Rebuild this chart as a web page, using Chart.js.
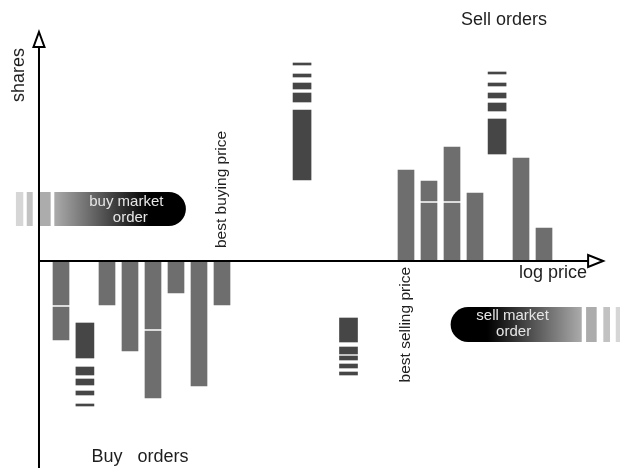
<!DOCTYPE html>
<html>
<head>
<meta charset="utf-8">
<script src="https://cdn.jsdelivr.net/npm/chart.js@4.4.1/dist/chart.umd.min.js"></script>
<style>
  html, body { margin: 0; padding: 0; background: #fff; }
  #wrap { width: 620px; height: 468px; }
</style>
</head>
<body>
<div id="wrap"><canvas id="book" width="620" height="468"></canvas></div>
<script>
// price slots (log price, one slot per tick) and share levels of the limit orders
const buyPrice = [0, 0, 2, 3, 4, 4, 5, 6, 7];
const buyFrom  = [0, -4.5, 0, 0, 0, -6.9, 0, 0, 0];
const buyTo    = [-4.5, -8.0, -4.5, -9.1, -6.9, -13.8, -3.3, -12.6, -4.5];

const sellPrice = [15, 16, 16, 17, 17, 18, 20, 21];
const sellFrom  = [0, 0, 5.9, 0, 5.9, 0, 0, 0];
const sellTo    = [9.2, 5.9, 8.1, 5.9, 11.5, 6.9, 10.4, 3.4];

// newly arriving / cancelled orders (dark blocks) and their trailing dashes
const newPrice = [1.04, 12.5, 10.48, 18.96];
const newFrom  = [-6.2, -5.7, 8.1, 10.7];
const newTo    = [-9.7, -8.1, 15.1, 14.2];

const dashPrice = [1.04, 1.04, 1.04, 1.04, 12.5, 12.5, 12.5, 12.5, 10.48, 10.48, 10.48, 10.48, 18.96, 18.96, 18.96, 18.96];
const dashFrom  = [-10.6, -11.8, -13.0, -14.3, -8.6, -9.5, -10.3, -11.1, 15.9, 17.2, 18.4, 19.6, 15.0, 16.3, 17.5, 18.7];
const dashTo    = [-11.4, -12.4, -13.4, -14.5, -9.3, -9.9, -10.7, -11.4, 16.8, 17.8, 18.7, 19.8, 15.8, 16.8, 17.8, 18.9];

// market orders: price extent and share band
const buyMarketPrice  = [-0.29, 5.43];
const buyMarketShares = [3.5, 6.9];
const buyTrailFrom = [-1.96, -1.49, -0.94];
const buyTrailTo   = [-1.64, -1.23, -0.45];

const sellMarketPrice  = [16.94, 22.64];
const sellMarketShares = [-8.1, -4.6];
const sellTrailFrom = [22.83, 23.58, 24.12];
const sellTrailTo   = [23.29, 23.87, 24.5];

const GRAY = '#6e6e6e';
const DARK = '#464646';
const INK  = '#1e1e1e';
const FONT = '"Liberation Sans", Arial, sans-serif';

function pts(xs, from, to) {
  return xs.map((x, i) => ({ x, y: [from[i], to[i]] }));
}

const decor = {
  id: 'decor',
  beforeDatasetsDraw(chart) {
    const { ctx, scales: { x, y } } = chart;
    // buy market order
    let x0 = x.getPixelForValue(buyMarketPrice[0]), x1 = x.getPixelForValue(buyMarketPrice[1]);
    let yt = y.getPixelForValue(buyMarketShares[1]), yb = y.getPixelForValue(buyMarketShares[0]);
    let r = (yb - yt) / 2;
    const trailBuy = ['#d6d6d6', '#c2c2c2', '#acacac'];
    buyTrailFrom.forEach((v, i) => {
      ctx.fillStyle = trailBuy[i];
      const a = x.getPixelForValue(v), b = x.getPixelForValue(buyTrailTo[i]);
      ctx.fillRect(a, yt, b - a, yb - yt);
    });
    let g = ctx.createLinearGradient(x0, 0, x1, 0);
    g.addColorStop(0, '#ababab');
    g.addColorStop(0.72, '#000');
    g.addColorStop(1, '#000');
    ctx.fillStyle = g;
    ctx.beginPath();
    ctx.moveTo(x0, yt);
    ctx.lineTo(x1 - r, yt);
    ctx.arc(x1 - r, yt + r, r, -Math.PI / 2, Math.PI / 2);
    ctx.lineTo(x0, yb);
    ctx.closePath();
    ctx.fill();
    ctx.fillStyle = '#e6e6e6';
    ctx.font = '15px ' + FONT;
    ctx.textAlign = 'center';
    ctx.textBaseline = 'middle';
    ctx.fillText('buy market', x0 + 72, yt + 10);
    ctx.fillText('order', x0 + 76, yt + 26);

    // sell market order
    x0 = x.getPixelForValue(sellMarketPrice[0]); x1 = x.getPixelForValue(sellMarketPrice[1]);
    yt = y.getPixelForValue(sellMarketShares[1]); yb = y.getPixelForValue(sellMarketShares[0]);
    r = (yb - yt) / 2;
    const trailSell = ['#acacac', '#c2c2c2', '#d6d6d6'];
    sellTrailFrom.forEach((v, i) => {
      ctx.fillStyle = trailSell[i];
      const a = x.getPixelForValue(v), b = x.getPixelForValue(sellTrailTo[i]);
      ctx.fillRect(a, yt, b - a, yb - yt);
    });
    g = ctx.createLinearGradient(x0, 0, x1, 0);
    g.addColorStop(0, '#000');
    g.addColorStop(0.28, '#000');
    g.addColorStop(1, '#ababab');
    ctx.fillStyle = g;
    ctx.beginPath();
    ctx.moveTo(x1, yt);
    ctx.lineTo(x0 + r, yt);
    ctx.arc(x0 + r, yt + r, r, -Math.PI / 2, Math.PI / 2, true);
    ctx.lineTo(x1, yb);
    ctx.closePath();
    ctx.fill();
    ctx.fillStyle = '#e6e6e6';
    ctx.fillText('sell market', x0 + 62, yt + 9);
    ctx.fillText('order', x0 + 63, yt + 25);
  },
  afterDatasetsDraw(chart) {
    const { ctx, chartArea, scales: { x, y } } = chart;
    const ax = x.getPixelForValue(-0.957);
    const ay = y.getPixelForValue(0);
    const yTip = y.getPixelForValue(22.9);
    const xTip = x.getPixelForValue(23.57);
    ctx.save();
    ctx.strokeStyle = '#000';
    ctx.lineWidth = 2;
    ctx.beginPath();
    ctx.moveTo(ax, chartArea.bottom);
    ctx.lineTo(ax, yTip + 15);
    ctx.moveTo(ax, ay);
    ctx.lineTo(xTip - 15, ay);
    ctx.stroke();
    ctx.fillStyle = '#fff';
    ctx.beginPath();
    ctx.moveTo(ax, yTip);
    ctx.lineTo(ax + 5.5, yTip + 15);
    ctx.lineTo(ax - 5.5, yTip + 15);
    ctx.closePath();
    ctx.fill(); ctx.stroke();
    ctx.beginPath();
    ctx.moveTo(xTip, ay);
    ctx.lineTo(xTip - 15, ay - 6);
    ctx.lineTo(xTip - 15, ay + 6);
    ctx.closePath();
    ctx.fill(); ctx.stroke();

    ctx.fillStyle = INK;
    ctx.font = '18px ' + FONT;
    ctx.textBaseline = 'middle';
    ctx.textAlign = 'center';
    ctx.fillText('Sell orders', 504, 20);
    ctx.fillText('log price', 553, 273);
    ctx.fillText('Buy   orders', 140, 457);
    ctx.save();
    ctx.translate(19, 75);
    ctx.rotate(-Math.PI / 2);
    ctx.fillText('shares', 0, 0);
    ctx.restore();

    ctx.font = '15.5px ' + FONT;
    ctx.save();
    ctx.translate(x.getPixelForValue(7), y.getPixelForValue(1.3));
    ctx.rotate(-Math.PI / 2);
    ctx.textAlign = 'left';
    ctx.fillText('best buying price', 0, 0);
    ctx.restore();
    ctx.save();
    ctx.translate(x.getPixelForValue(15), y.getPixelForValue(-0.6));
    ctx.rotate(-Math.PI / 2);
    ctx.textAlign = 'right';
    ctx.fillText('best selling price', 0, 0);
    ctx.restore();
    ctx.restore();
  }
};

new Chart(document.getElementById('book').getContext('2d'), {
  type: 'bar',
  data: {
    datasets: [
      { label: 'Buy orders', data: pts(buyPrice, buyFrom, buyTo), backgroundColor: GRAY, borderColor: '#fff', borderWidth: 1, borderSkipped: false, barThickness: 18, grouped: false },
      { label: 'Sell orders', data: pts(sellPrice, sellFrom, sellTo), backgroundColor: GRAY, borderColor: '#fff', borderWidth: 1, borderSkipped: false, barThickness: 18, grouped: false },
      { label: 'New orders', data: pts(newPrice, newFrom, newTo), backgroundColor: DARK, borderWidth: 0, barThickness: 18, grouped: false },
      { label: 'Dashes', data: pts(dashPrice, dashFrom, dashTo), backgroundColor: DARK, borderWidth: 0, barThickness: 18, grouped: false },
    ]
  },
  options: {
    responsive: false,
    animation: false,
    devicePixelRatio: 1,
    layout: { padding: 0 },
    plugins: { legend: { display: false }, tooltip: { enabled: false } },
    scales: {
      x: { type: 'linear', min: -61 / 23, max: -61 / 23 + 620 / 23, display: false, offset: false },
      y: { type: 'linear', min: -20.7, max: 26.1, display: false }
    }
  },
  plugins: [decor]
});
</script>
</body>
</html>
